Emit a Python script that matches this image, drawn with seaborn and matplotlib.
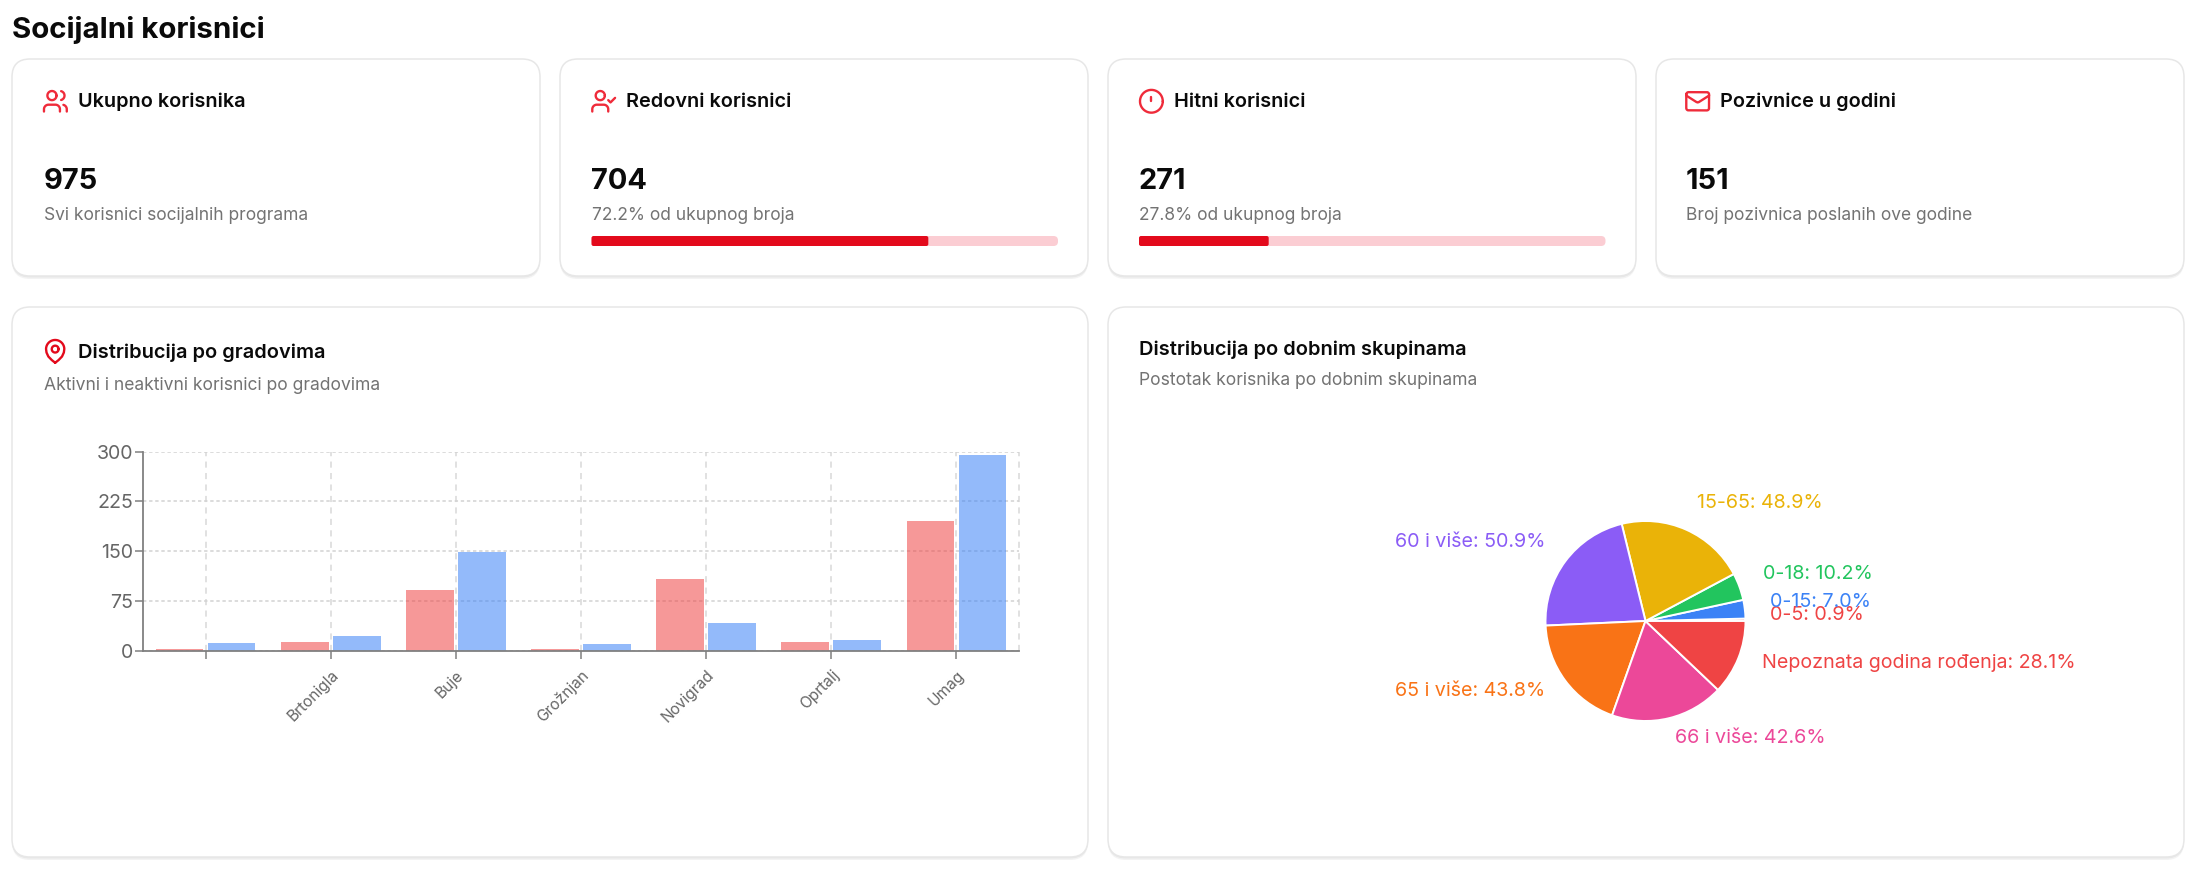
import numpy as np
import pandas as pd
import matplotlib
matplotlib.use("Agg")
import matplotlib.pyplot as plt
from matplotlib.patches import FancyBboxPatch
import seaborn as sns

W, H = 2197, 871
PT = 0.72

# ---- data ----
page_title = "Socijalni korisnici"
card_titles = ["Ukupno korisnika", "Redovni korisnici", "Hitni korisnici", "Pozivnice u godini"]
card_values = [975, 704, 271, 151]
card_subs = ["Svi korisnici socijalnih programa", "72.2% od ukupnog broja",
             "27.8% od ukupnog broja", "Broj pozivnica poslanih ove godine"]
card_progress = [None, 72.2, 27.8, None]

cities = [" ", "Brtonigla", "Buje", "Grožnjan", "Novigrad", "Oprtalj", "Umag"]
active = [3, 14, 91, 3, 108, 14, 195]
inactive = [12, 23, 149, 11, 42, 17, 294]
y_ticks = [0, 75, 150, 225, 300]

age_labels = ["0-5", "0-15", "0-18", "15-65", "60 i više", "65 i više", "66 i više",
              "Nepoznata godina rođenja"]
age_values = [0.9, 7.0, 10.2, 48.9, 50.9, 43.8, 42.6, 28.1]
age_colors = ["#ef4444", "#3b82f6", "#22c55e", "#eab308", "#8b5cf6", "#f97316", "#ec4899", "#ef4444"]

sns.set_theme(style="white")
plt.rcParams["font.family"] = ["Inter", "DejaVu Sans"]

RED = "#e30a1c"
ICON = "#ef2b3a"
TXT = "#0a0a0a"
SUB = "#737373"

fig = plt.figure(figsize=(W / 100, H / 100), dpi=100, facecolor="white")
ov = fig.add_axes([0, 0, 1, 1], zorder=0)
ov.set_xlim(0, W)
ov.set_ylim(H, 0)
ov.axis("off")


def card(x0, y0, x1, y1):
    for dy, c in ((3, "#f3f3f3"), (1.5, "#e8e8e8")):
        ov.add_patch(FancyBboxPatch((x0, y0 + dy), x1 - x0, y1 - y0,
                                    boxstyle="round,pad=0,rounding_size=18",
                                    fc=c, ec="none"))
    ov.add_patch(FancyBboxPatch((x0, y0), x1 - x0, y1 - y0,
                                boxstyle="round,pad=0,rounding_size=18",
                                fc="white", ec="#e7e7e7", lw=1.1))


def txt(x, y, s, px, color=TXT, weight="normal", **kw):
    ov.text(x, y, s, fontsize=px * PT, color=color, fontweight=weight,
            va="center", ha="left", **kw)


class Icon:
    def __init__(self, x0, y0, color=ICON, k=1.14):
        self.x0, self.y0, self.k, self.color = x0, y0, k, color

    def line(self, pts):
        p = np.asarray(pts, float)
        ov.plot(self.x0 + p[:, 0] * self.k, self.y0 + p[:, 1] * self.k, color=self.color,
                lw=1.7, solid_capstyle="round", solid_joinstyle="round")

    @staticmethod
    def arc(cx, cy, r, a0, a1):
        t = np.radians(np.linspace(a0, a1, 40))
        return np.c_[cx + r * np.cos(t), cy + r * np.sin(t)]

    def circle(self, cx, cy, r):
        self.line(self.arc(cx, cy, r, 0, 360))

    def body(self):
        self.line(np.vstack([[[16, 21], [16, 19]], self.arc(12, 19, 4, 0, -90),
                             self.arc(6, 19, 4, -90, -180), [[2, 21]]]))


def icon_users(x0, y0):
    i = Icon(x0, y0)
    i.body()
    i.circle(9, 7, 4)
    i.line(np.vstack([[[22, 21], [22, 19]], i.arc(18, 19, 4, 0, -75)]))
    i.line(i.arc(12.1, 7, 4, -75, 75) + [3.9, 0])


def icon_check(x0, y0):
    i = Icon(x0, y0)
    i.body()
    i.circle(9, 7, 4)
    i.line([[16, 11], [18, 13], [22, 9]])


def icon_alert(x0, y0):
    i = Icon(x0, y0)
    i.circle(12, 12, 10)
    i.line([[12, 8], [12, 12]])
    i.line([[12, 16], [12, 16.3]])


def icon_mail(x0, y0):
    i = Icon(x0, y0)
    i.line(np.vstack([i.arc(4, 6, 2, 180, 270), i.arc(20, 6, 2, 270, 360),
                      i.arc(20, 18, 2, 0, 90), i.arc(4, 18, 2, 90, 180), [[2, 6]]]))
    i.line([[22, 7], [13.03, 12.7], [12, 13], [10.97, 12.7], [2, 7]])


def icon_pin(x0, y0):
    i = Icon(x0, y0, color=RED)
    left = [[12, 22], [9, 19.6], [6, 16.5], [4.4, 13], [4, 10]]
    right = [[20, 10], [19.6, 13], [18, 16.5], [15, 19.6], [12, 22]]
    i.line(np.vstack([left, i.arc(12, 10, 8, 180, 360), right]))
    i.circle(12, 10, 3)


# ---- page title ----
txt(12.5, 29.5, page_title, 29.5, weight="bold")

# ---- stat cards ----
card_x = [(12, 540), (560, 1088), (1108, 1636), (1656, 2184)]
text_x = [43.5, 591.5, 1139, 1686]
head_x = [78, 625.5, 1174, 1720.5]
icons = [(icon_users, 41.7), (icon_check, 590), (icon_alert, 1137.7), (icon_mail, 1684)]
for k in range(4):
    card(card_x[k][0], 59, card_x[k][1], 276)
    icons[k][0](icons[k][1], 87.6)
    txt(head_x[k], 102, card_titles[k], 19.9, weight="semibold")
    txt(text_x[k], 181.5, str(card_values[k]), 29, weight="bold")
    txt(text_x[k], 215, card_subs[k], 17.4, color=SUB)
    if card_progress[k] is not None:
        bw = 466.5
        ov.add_patch(FancyBboxPatch((text_x[k], 236), bw, 10,
                                    boxstyle="round,pad=0,rounding_size=4.5",
                                    fc="#fbcdd3", ec="none"))
        ov.add_patch(FancyBboxPatch((text_x[k], 236), bw * card_progress[k] / 100, 10,
                                    boxstyle="round,pad=0,rounding_size=2",
                                    fc=RED, ec="none"))

# ---- lower cards ----
card(12, 307, 1088, 857)
card(1108, 307, 2184, 857)
icon_pin(41.5, 337.7)
txt(78, 352.5, "Distribucija po gradovima", 20.0, weight="semibold")
txt(43.5, 385, "Aktivni i neaktivni korisnici po gradovima", 17.5, color=SUB)
txt(1139, 349.5, "Distribucija po dobnim skupinama", 20.0, weight="semibold")
txt(1139, 380.5, "Postotak korisnika po dobnim skupinama", 17.5, color=SUB)

# ---- bar chart ----
bx0, bx1, by0, by1 = 143, 1019, 451.5, 651
ax = fig.add_axes([bx0 / W, 1 - by1 / H, (bx1 - bx0) / W, (by1 - by0) / H], zorder=2)
ax.patch.set_alpha(0)
df = pd.DataFrame({
    "city": cities * 2,
    "count": active + inactive,
    "status": ["Aktivni"] * len(cities) + ["Neaktivni"] * len(cities),
})
sns.barplot(data=df, x="city", y="count", hue="status", order=cities,
            palette={"Aktivni": "#ef4444", "Neaktivni": "#3b82f6"}, saturation=1,
            width=0.83, gap=0.08, alpha=0.55, linewidth=0, legend=False, errorbar=None, ax=ax)
ax.set_xlim(-0.5, len(cities) - 0.5)
ax.set_ylim(0, 300)
ax.set_yticks(y_ticks)
ax.set_xlabel("")
ax.set_ylabel("")
ax.set_axisbelow(True)
ax.yaxis.grid(True, color="#d2d2d2", lw=1.1, linestyle=(0, (2.2, 1.8)))
ax.xaxis.grid(True, color="#d8d8d8", lw=1.1, linestyle=(0, (4, 3.5)))
ax.axvline(len(cities) - 0.5, color="#d8d8d8", lw=1.1, linestyle=(0, (4, 3.5)), zorder=0.5, clip_on=False)
for s in ("top", "right"):
    ax.spines[s].set_visible(False)
for s in ("left", "bottom"):
    ax.spines[s].set_color("#808080")
    ax.spines[s].set_linewidth(1.3)
ax.tick_params(axis="y", length=5.8, width=1.1, color="#808080", labelcolor="#666666",
               labelsize=19.6 * PT, pad=1.5, left=True)
ax.tick_params(axis="x", length=5.8, width=1.1, color="#808080", labelcolor="#666666",
               labelsize=15.5 * PT, pad=6, bottom=True)
for lab in ax.get_xticklabels():
    lab.set_rotation(45)
    lab.set_ha("right")
    lab.set_va("top")
    lab.set_rotation_mode("anchor")

# ---- pie chart ----
cx, cy, r = 1645.5, 621, 100
pax = fig.add_axes([(cx - r) / W, 1 - (cy + r) / H, 2 * r / W, 2 * r / H], zorder=2)
wedges, _ = pax.pie(age_values, colors=age_colors, startangle=0, counterclock=True, radius=1,
                    wedgeprops=dict(edgecolor="white", linewidth=1.4))
pax.set_xlim(-1, 1)
pax.set_ylim(-1, 1)
total = sum(age_values)
cum = 0.0
for lab, val, col in zip(age_labels, age_values, age_colors):
    mid = np.radians((cum + val / 2) / total * 360)
    cum += val
    x, y = 1.25 * np.cos(mid), 1.25 * np.sin(mid) + 0.042
    pax.text(x, y, f"{lab}: {val}%", color=col, fontsize=19.7 * PT,
             ha="left" if x > 0 else "right", va="center", clip_on=False)

fig.savefig("out.png", dpi=100, facecolor="white")
